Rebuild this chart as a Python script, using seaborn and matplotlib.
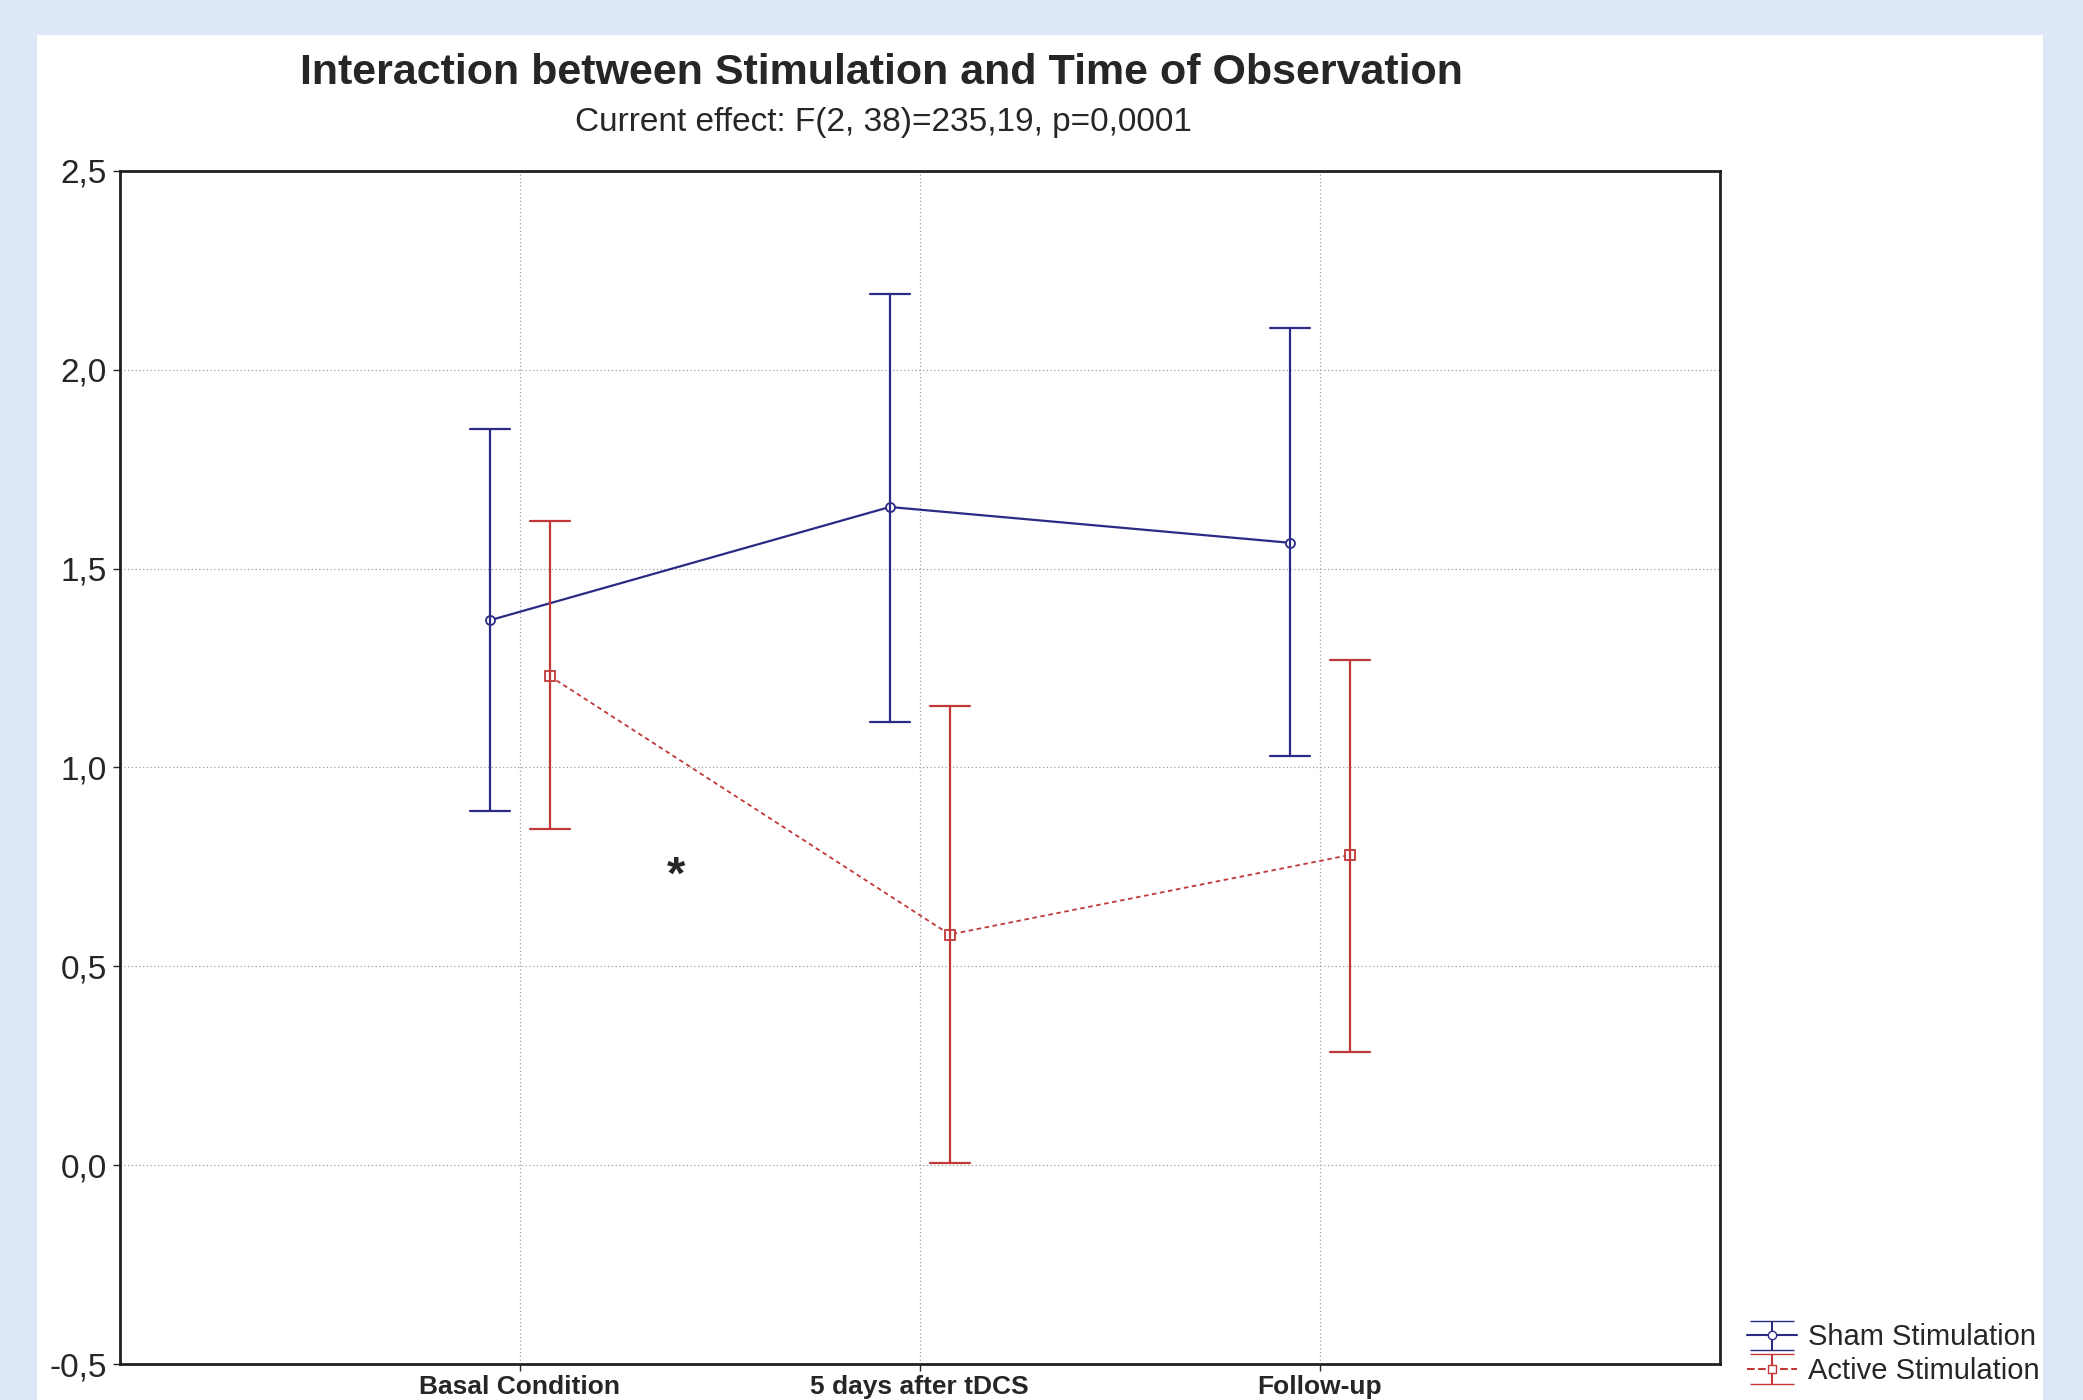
import numpy as np
import pandas as pd
import seaborn as sns
import matplotlib.pyplot as plt
from matplotlib.patches import Rectangle
from matplotlib.ticker import FuncFormatter

# values (mean and 95% CI limits)
conditions = ["Basal Condition", "5 days after tDCS", "Follow-up"]
groups = ["Sham Stimulation", "Active Stimulation"]
sham_mean = [1.37, 1.655, 1.565]
sham_low = [0.89, 1.115, 1.03]
sham_high = [1.85, 2.19, 2.105]
active_mean = [1.23, 0.58, 0.78]
active_low = [0.845, 0.005, 0.285]
active_high = [1.62, 1.155, 1.27]
yticks = [-0.5, 0.0, 0.5, 1.0, 1.5, 2.0, 2.5]

title = "Interaction between Stimulation and Time of Observation"
subtitle = "Current effect: F(2, 38)=235,19, p=0,0001"
star_pos = (0.392, 0.725)

# long table: low / mean / high per cell -> median + full range gives mean and CI
rows = []
for grp, lo, mu, hi in [(groups[0], sham_low, sham_mean, sham_high),
                        (groups[1], active_low, active_mean, active_high)]:
    for i, cond in enumerate(conditions):
        for v in (lo[i], mu[i], hi[i]):
            rows.append({"Group": grp, "Time": cond, "Value": v})
df = pd.DataFrame(rows)

sham_col = "#2b2b86"
active_col = "#c23838"
palette = {groups[0]: sham_col, groups[1]: active_col}

sns.set_style("white")
plt.rcParams["font.family"] = ["Liberation Sans", "DejaVu Sans"]

fig = plt.figure(figsize=(20.83, 14), dpi=100, facecolor="#dce8f5")
fig.patches.append(Rectangle((0.0178, 0.0), 0.963, 0.975, transform=fig.transFigure,
                             facecolor="white", edgecolor="none", zorder=-10))
ax = fig.add_axes([0.0574, 0.0257, 0.7683, 0.8522])

sns.pointplot(data=df, x="Time", y="Value", hue="Group", order=conditions,
              hue_order=groups, estimator="median", errorbar=("pi", 100),
              dodge=0.15, palette=palette, markers=["o", "s"],
              linestyles=["-", "--"], capsize=0.1,
              linewidth=1.6, err_kws={"linewidth": 1.6}, legend=False, ax=ax)

for line in ax.lines:
    if line.get_marker() not in (None, "None", ""):
        line.set_markerfacecolor("white")
        line.set_markeredgewidth(1.3)
        line.set_markersize(6.5)
        if line.get_linestyle() == "--":
            line.set_dashes((2.5, 2))
            line.set_linewidth(1.3)

ax.text(star_pos[0], star_pos[1], "*", fontsize=34, fontweight="bold",
        ha="center", va="center")

ax.set_xlim(-1, 3)
ax.set_ylim(-0.5, 2.5)
ax.set_yticks(yticks)
ax.yaxis.set_major_formatter(FuncFormatter(lambda v, p: f"{v:.1f}".replace(".", ",")))
ax.set_xlabel("")
ax.set_ylabel("")
ax.grid(True, linestyle=(0, (1, 2)), color="#a0a0a0", linewidth=0.9)
ax.set_axisbelow(True)
for s in ax.spines.values():
    s.set_visible(True)
    s.set_color("#202020")
    s.set_linewidth(2)
ax.tick_params(axis="y", left=True, length=5, width=1, labelsize=24, pad=4)
ax.tick_params(axis="x", bottom=True, length=5, width=1, labelsize=19, pad=3)
for lab in ax.get_xticklabels():
    lab.set_fontweight("bold")

fig.text(0.423, 0.948, title, ha="center", va="center", fontsize=31, fontweight="bold")
fig.text(0.424, 0.9125, subtitle, ha="center", va="center", fontsize=24)

# legend drawn with errorbar glyphs like the original
h_sham = ax.errorbar([np.nan], [np.nan], yerr=[[np.nan], [np.nan]], color=sham_col,
                     marker="o", mfc="white", ms=6, capsize=16, lw=1.5,
                     label=groups[0])
h_act = ax.errorbar([np.nan], [np.nan], yerr=[[np.nan], [np.nan]], color=active_col,
                    marker="s", mfc="white", ms=6, capsize=16, lw=1.5, ls="--",
                    label=groups[1])
fig.legend(handles=[h_sham, h_act], loc="lower left", bbox_to_anchor=(0.829, -0.004),
           frameon=False, fontsize=21, handlelength=1.7, handletextpad=0.4,
           labelspacing=0.2, borderpad=0.2)

fig.savefig("out.png", dpi=100, facecolor=fig.get_facecolor())
